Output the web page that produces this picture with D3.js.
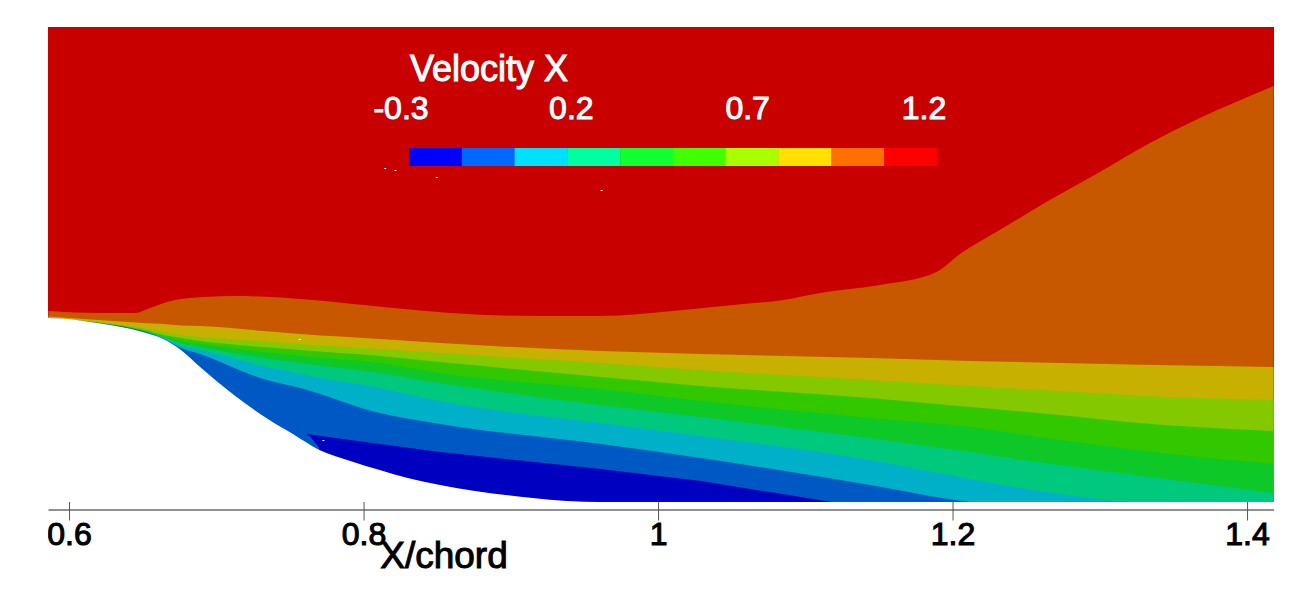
<!DOCTYPE html>
<html>
<head>
<meta charset="utf-8">
<script src="https://cdn.jsdelivr.net/npm/d3@7"></script>
<style>
  html, body { margin: 0; padding: 0; background: #fff; }
  svg { display: block; }
  text { font-family: "Liberation Sans", sans-serif; }
</style>
</head>
<body>
<svg width="1309" height="594"></svg>
<script>
// x stations (X/chord) shared by the contour bands
const stations = [0.586, 0.62, 0.65, 0.664, 0.676, 0.689, 0.732, 0.757, 0.811, 0.852, 0.961, 1.029, 1.144, 1.212, 1.273, 1.319, 1.418];

// lower edge of each contour band at the stations, height above the floor
const orangeLower = [185.5, 182, 179, 178, 176.5, 176, 171, 168, 163, 159, 151, 148, 144, 141, 139, 137.5, 135];
const yellowLower = [184.5, 180, 174, 170, 167, 165, 161, 158, 153, 149, 139, 132, 122, 116, 111, 107, 102];
const limeLower = [184, 179.5, 172.5, 167, 164, 161, 155, 152, 146, 140, 125, 116, 104, 95, 87, 80, 71];
const greenLower = [184, 179, 171, 166, 161, 158, 150, 146, 139, 129, 113, 101, 84, 75, 62, 53, 38];
const green2Lower = [184, 179, 171, 165, 159, 155, 144, 139, 129, 119, 97, 85, 64, 50, 37, 28, 9];
const tealLower = [184, 179, 171, 164, 156, 152, 136, 128, 114, 101, 79, 66, 42, 23, 8, 0, -6];
const cyanLower = [184, 179, 171, 163.5, 154, 148, 123, 114, 89, 78, 58, 44, 17, 0, -6, -6, -6];

// red / orange boundary has its own stations, it kinks near 1.19
const redEdgeX = [0.586, 0.621, 0.645, 0.655, 0.672, 0.692, 0.713, 0.757, 0.8, 0.859, 0.918, 0.959, 1.017, 1.051, 1.085, 1.11, 1.151, 1.189, 1.205, 1.232, 1.266, 1.3, 1.334, 1.368, 1.418];
const redEdgeH = [191, 189, 189, 194, 202, 205, 206, 203, 197, 189, 186, 186, 192, 197, 202, 209, 217, 230, 248, 272, 302, 330, 359, 384, 416];

// recirculation pocket (darkest blue), tip then top edge then back under the wall
const pocketX = [0.77, 0.764, 0.761, 0.811, 0.852, 0.961, 1.029, 1.118, 1.118, 0.77];
const pocketH = [54, 65, 68, 58, 50, 33, 21, 0, -5, -5];

// solid wall (white)
const wallX = [0.586, 0.619, 0.65, 0.664, 0.676, 0.689, 0.712, 0.735, 0.752, 0.77, 0.791, 0.811, 0.83, 0.852, 0.915, 0.938, 0.961];
const wallH = [184, 179, 170, 163, 152, 135, 107, 83, 68, 52, 41, 32, 24, 17, 4, 1, 0];

// stray white pixels in the field
const speckX = [0.814, 0.821, 0.849, 0.961, 0.756, 0.751, 0.772];
const speckH = [334, 332, 325, 312, 163, 68, 62];

const xTicks = [0.6, 0.8, 1, 1.2, 1.4];
const legendValues = [-0.3, 0.2, 0.7, 1.2];
const legendColors = ['#0000ff', '#0068ff', '#00e0ff', '#00ffa0', '#10ff30', '#40ff00', '#a8ff00', '#ffe000', '#ff7000', '#ff0000'];

const svg = d3.select('svg');
const plot = { left: 48, right: 1274, top: 27, floor: 502, axis: 509.5 };

const x = d3.scaleLinear().domain([0.5857, 1.4183]).range([plot.left, plot.right]);
const y = d3.scaleLinear().domain([0, 475]).range([plot.floor, plot.top]);

svg.append('clipPath').attr('id', 'field')
  .append('rect')
  .attr('x', plot.left).attr('y', plot.top)
  .attr('width', plot.right - plot.left).attr('height', plot.floor - plot.top);
svg.append('clipPath').attr('id', 'axisClip')
  .append('rect')
  .attr('x', plot.left).attr('y', plot.floor - 10)
  .attr('width', plot.right - plot.left).attr('height', 70);

// axis goes first, the field sits on top of the ticks
const axis = svg.append('g')
  .attr('clip-path', 'url(#axisClip)')
  .append('g')
  .attr('transform', `translate(0, ${plot.axis})`)
  .call(d3.axisBottom(x).tickValues(xTicks).tickFormat(d => d).tickSizeOuter(0));
axis.select('.domain').attr('stroke', '#6b6b6b').attr('stroke-width', 1.6);
axis.selectAll('.tick line')
  .attr('y1', -11).attr('y2', 11)
  .attr('stroke', '#555').attr('stroke-width', 1);
axis.selectAll('.tick text')
  .attr('y', 13)
  .attr('fill', '#000')
  .attr('stroke', '#000')
  .attr('stroke-width', 1.1)
  .attr('font-size', 32)
  .attr('font-family', '"Liberation Sans", sans-serif');

const field = svg.append('g').attr('clip-path', 'url(#field)');

field.append('rect')
  .attr('x', plot.left).attr('y', plot.top)
  .attr('width', plot.right - plot.left).attr('height', plot.floor - plot.top)
  .attr('fill', '#c80000');

const smoothEdge = d3.area()
  .x(d => x(d[0]))
  .y0(y(-6))
  .y1(d => y(d[1]))
  .curve(d3.curveMonotoneX);

// paint from the top layer down, each band covers everything below its edge
field.append('path')
  .attr('d', smoothEdge(d3.zip(redEdgeX, redEdgeH)))
  .attr('fill', '#c85800');

const bands = [
  { h: orangeLower, color: '#c8b000' },
  { h: yellowLower, color: '#84c800' },
  { h: limeLower, color: '#32c800' },
  { h: greenLower, color: '#0dc826' },
  { h: green2Lower, color: '#00c87d' },
  { h: tealLower, color: '#00b0c8' },
  { h: cyanLower, color: '#0058c4' }
];

field.selectAll('.band')
  .data(bands)
  .enter().append('path')
  .attr('class', 'band')
  .attr('d', d => smoothEdge(d3.zip(stations, d.h)))
  .attr('fill', d => d.color);

const outline = d3.line().x(d => x(d[0])).y(d => y(d[1]));
field.append('path')
  .attr('d', outline(d3.zip(pocketX, pocketH)) + 'Z')
  .attr('fill', '#0000c0');

// white wall on top of all bands
field.append('path')
  .attr('d', smoothEdge([[0.58, 184]].concat(d3.zip(wallX, wallH))))
  .attr('fill', '#fff');

field.selectAll('.speck')
  .data(d3.zip(speckX, speckH))
  .enter().append('rect')
  .attr('class', 'speck')
  .attr('x', d => x(d[0])).attr('y', d => y(d[1]))
  .attr('width', 2).attr('height', 1)
  .attr('fill', '#fff');

// colour legend, ten equal steps
const legendX = d3.scaleLinear().domain([-0.3, 1.2]).range([395, 924]);
const step = d3.scaleBand().domain(d3.range(legendColors.length)).range([409, 937]);
svg.selectAll('.swatch')
  .data(legendColors)
  .enter().append('rect')
  .attr('class', 'swatch')
  .attr('x', (d, i) => step(i))
  .attr('y', 148)
  .attr('width', step.bandwidth() + 0.3)
  .attr('height', 18)
  .attr('fill', d => d);

svg.append('text')
  .attr('x', 410).attr('y', 81)
  .attr('fill', '#fff')
  .attr('stroke', '#fff')
  .attr('stroke-width', 1)
  .attr('font-size', 36)
  .text('Velocity X');

svg.selectAll('.legendTick')
  .data(legendValues)
  .enter().append('text')
  .attr('class', 'legendTick')
  .attr('x', d => legendX(d) + (d < 0 ? 6 : 0))
  .attr('y', 119)
  .attr('text-anchor', 'middle')
  .attr('fill', '#fff')
  .attr('stroke', '#fff')
  .attr('stroke-width', 1)
  .attr('font-size', 32)
  .text(d => d.toFixed(1));

svg.append('text')
  .attr('x', 444).attr('y', 568)
  .attr('text-anchor', 'middle')
  .attr('fill', '#000')
  .attr('stroke', '#000')
  .attr('stroke-width', 1)
  .attr('font-size', 37)
  .text('X/chord');
</script>
</body>
</html>
